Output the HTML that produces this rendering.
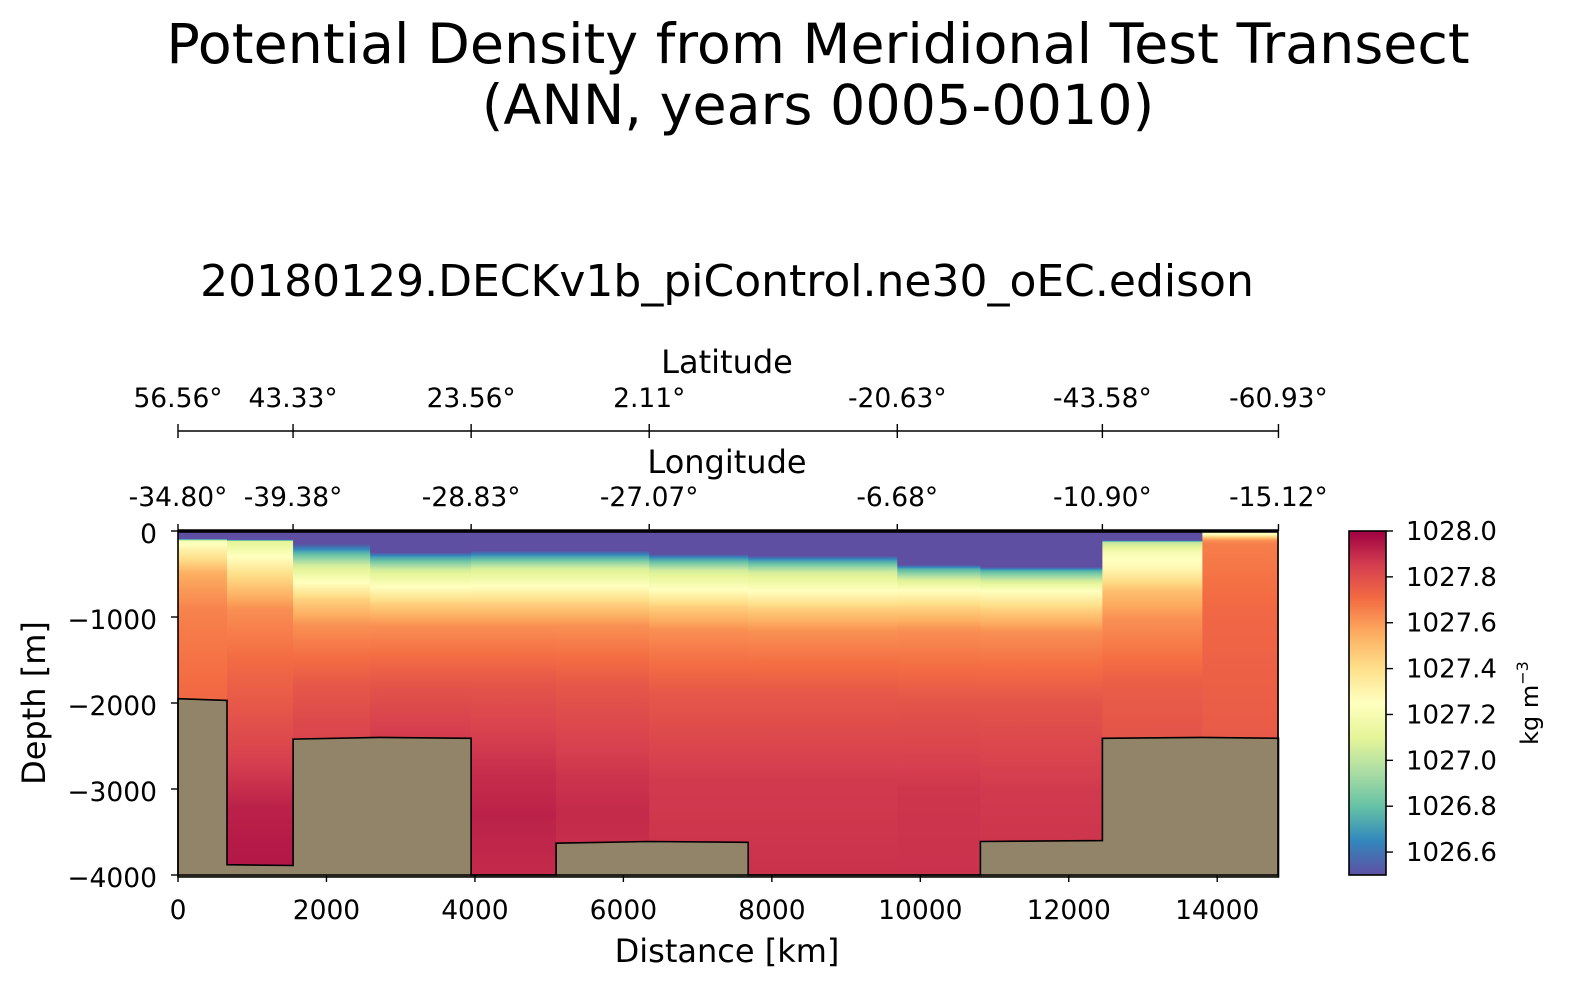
<!DOCTYPE html>
<html><head><meta charset="utf-8"><style>
html,body{margin:0;padding:0;background:#fff;}
svg text{font-family:"DejaVu Sans","Liberation Sans",sans-serif;fill:#000;}
</style></head><body>
<svg id="chart" width="1571" height="989" viewBox="0 0 1571 989" xmlns="http://www.w3.org/2000/svg">
<defs id="defs"></defs>
<text x="818" y="63" font-size="55.5" text-anchor="middle">Potential Density from Meridional Test Transect</text>
<text x="818" y="124" font-size="55.5" text-anchor="middle">(ANN, years 0005-0010)</text>
<text x="727" y="296" font-size="44" text-anchor="middle">20180129.DECKv1b_piControl.ne30_oEC.edison</text>
<g id="plot"></g>
<g id="axes"></g>
<g id="cbar"></g>
</svg>
<script>
// ---- data ----
const colEdges = [0,660,1550,2588,3949,5094,6348,7682,9690,10809,12453,13800,14825];
const profDepths = [
 [0,90,115,200,500,900,2000,4000],
 [0,100,120,300,500,900,1600,2500,3200,4000],
 [0,150,250,400,600,800,1100,1800,2500,4000],
 [0,250,300,450,650,850,1100,1800,2500,4000],
 [0,230,290,430,640,850,1100,1800,2800,3300,4000],
 [0,230,290,430,640,850,1100,1800,2800,3300,4000],
 [0,270,320,460,680,880,1150,1900,2900,4000],
 [0,290,340,480,700,900,1170,1900,2900,4000],
 [0,395,440,560,690,900,1150,2000,3000,4000],
 [0,420,460,580,700,920,1170,2000,3000,4000],
 [0,110,130,250,450,700,1030,1800,2400,4000],
 [0,40,70,110,150,1000,2400,4000]
];
const profValues = [
 [1026.5,1026.5,1027.2,1027.3,1027.55,1027.65,1027.72,1027.72],
 [1026.5,1026.5,1027.1,1027.25,1027.4,1027.62,1027.72,1027.82,1027.92,1027.95],
 [1026.5,1026.5,1026.75,1027.05,1027.25,1027.45,1027.62,1027.77,1027.84,1027.86],
 [1026.5,1026.5,1026.7,1027.05,1027.25,1027.45,1027.62,1027.78,1027.87,1027.93],
 [1026.5,1026.5,1026.7,1027.05,1027.25,1027.45,1027.62,1027.78,1027.89,1027.92,1027.9],
 [1026.5,1026.5,1026.7,1027.05,1027.25,1027.45,1027.62,1027.77,1027.87,1027.9,1027.88],
 [1026.5,1026.5,1026.7,1027.05,1027.25,1027.45,1027.62,1027.77,1027.86,1027.88],
 [1026.5,1026.5,1026.7,1027.05,1027.25,1027.45,1027.62,1027.77,1027.86,1027.88],
 [1026.5,1026.5,1026.75,1027.05,1027.25,1027.45,1027.62,1027.78,1027.87,1027.88],
 [1026.5,1026.5,1026.75,1027.05,1027.25,1027.45,1027.62,1027.78,1027.86,1027.88],
 [1026.5,1026.5,1027.0,1027.2,1027.3,1027.5,1027.62,1027.75,1027.78,1027.8],
 [1027.2,1027.25,1027.45,1027.62,1027.66,1027.72,1027.76,1027.78]
];
const bathDist = [0,660,660,1550,1550,2700,3949,3949,5094,5094,6348,7682,7682,10809,10809,12453,12453,13800,14825];
const bathDepth = [-1950,-1970,-3880,-3890,-2420,-2400,-2410,-4000,-4000,-3630,-3610,-3620,-4000,-4000,-3610,-3600,-2410,-2400,-2410];
const xTicks = [0,2000,4000,6000,8000,10000,12000,14000];
const yTicks = [0,-1000,-2000,-3000,-4000];
const topTickDist = [0,1550,3949,6348,9690,12453,14825];
const latLabels = ["56.56°","43.33°","23.56°","2.11°","-20.63°","-43.58°","-60.93°"];
const lonLabels = ["-34.80°","-39.38°","-28.83°","-27.07°","-6.68°","-10.90°","-15.12°"];
const cbTicks = [1026.6,1026.8,1027.0,1027.2,1027.4,1027.6,1027.8,1028.0];
const vmin = 1026.5, vmax = 1028.0;

// ---- helpers ----
const NS = "http://www.w3.org/2000/svg";
const X0 = 178, X1 = 1278, Y0 = 531, Y1 = 875;
const xs = d => X0 + d * 0.07423;
const ys = z => Y0 + (-z) * (Y1 - Y0) / 4000;
const spectral = [[158,1,66],[213,62,79],[244,109,67],[253,174,97],[254,224,139],[255,255,191],[230,245,152],[171,221,164],[102,194,165],[50,136,189],[94,79,162]];
function cmap(v){
  let t = (v - vmin) / (vmax - vmin); t = Math.max(0, Math.min(1, t));
  const s = (1 - t) * 10; const i = Math.min(9, Math.floor(s)); const f = s - i;
  const a = spectral[i], b = spectral[i+1];
  return "rgb(" + a.map((c,k)=>Math.round(c + (b[k]-c)*f)).join(",") + ")";
}
function mk(tag, attrs, parent){ const e = document.createElementNS(NS, tag); for (const k in attrs) e.setAttribute(k, attrs[k]); parent.appendChild(e); return e; }
const defs = document.getElementById("defs"), plot = document.getElementById("plot"), axes = document.getElementById("axes"), cbar = document.getElementById("cbar");

// ---- columns ----
for (let c = 0; c < colEdges.length - 1; c++) {
  const g = mk("linearGradient", {id: "grad" + c, gradientUnits: "userSpaceOnUse", x1: 0, x2: 0, y1: ys(0), y2: ys(-4000)}, defs);
  const D = profDepths[c], V = profValues[c];
  for (let i = 0; i < D.length - 1; i++) {
    for (let k = 0; k < 8; k++) {
      const f = k / 8, d = D[i] + (D[i+1]-D[i]) * f, v = V[i] + (V[i+1]-V[i]) * f;
      mk("stop", {offset: d / 4000, "stop-color": cmap(v)}, g);
    }
  }
  mk("stop", {offset: 1, "stop-color": cmap(V[V.length-1])}, g);
  const r = mk("rect", {x: xs(colEdges[c]), y: Y0, width: xs(colEdges[c+1]) - xs(colEdges[c]) + 0.5, height: Y1 - Y0, fill: "url(#grad" + c + ")"}, plot);
  
  
}
// ---- bathymetry ----
let pts = bathDist.map((d,i) => xs(d).toFixed(1) + "," + ys(bathDepth[i]).toFixed(1));
pts.push(xs(bathDist[bathDist.length-1]).toFixed(1) + "," + (Y1+2), xs(0).toFixed(1) + "," + (Y1+2));
const bath = mk("polygon", {points: pts.join(" "), fill: "#918468", stroke: "#000", "stroke-width": 1.6}, plot);



// ---- frame ----
const spineL = mk("line", {x1: X0, y1: Y0, x2: X0, y2: Y1, stroke: "#000", "stroke-width": 1.6}, axes);
 
const spineB = mk("line", {x1: X0, y1: Y1, x2: X1, y2: Y1, stroke: "#000", "stroke-width": 1.6}, axes);
 
const spineR = mk("line", {x1: X1, y1: Y0, x2: X1, y2: Y1, stroke: "#000", "stroke-width": 1.6}, axes);
 
const spineT = mk("line", {x1: X0, y1: Y0, x2: X1, y2: Y0, stroke: "#000", "stroke-width": 3.5}, axes);
 

xTicks.forEach(v => {
  mk("line", {x1: xs(v), y1: Y1, x2: xs(v), y2: Y1 + 7, stroke: "#000", "stroke-width": 1.4}, axes);
  const t = mk("text", {x: xs(v), y: 919, "font-size": 26.5, "text-anchor": "middle"}, axes);
  t.textContent = v;
   
});
yTicks.forEach(v => {
  mk("line", {x1: X0 - 7, y1: ys(v), x2: X0, y2: ys(v), stroke: "#000", "stroke-width": 1.4}, axes);
  const t = mk("text", {x: X0 - 21, y: ys(v) + 12, "font-size": 26.5, "text-anchor": "end"}, axes);
  t.textContent = v === 0 ? "0" : "\u2212" + Math.abs(v);
   
});
// top axes
const latY = 431;
mk("line", {x1: X0, y1: latY, x2: X1, y2: latY, stroke: "#000", "stroke-width": 1.4}, axes);
topTickDist.forEach((d,i) => {
  mk("line", {x1: xs(d), y1: latY, x2: xs(d), y2: latY - 7, stroke: "#000", "stroke-width": 1.4}, axes);
  mk("line", {x1: xs(d), y1: latY, x2: xs(d), y2: latY + 7, stroke: "#000", "stroke-width": 1.4}, axes);
  const t = mk("text", {x: xs(d), y: 407, "font-size": 26.5, "text-anchor": "middle"}, axes);
  t.textContent = latLabels[i];
   
  mk("line", {x1: xs(d), y1: Y0, x2: xs(d), y2: Y0 - 7, stroke: "#000", "stroke-width": 1.4}, axes);
  const t2 = mk("text", {x: xs(d), y: 506, "font-size": 26.5, "text-anchor": "middle"}, axes);
  t2.textContent = lonLabels[i];
   
});
// ---- colorbar ----
const CX0 = 1349, CX1 = 1386;
const cbg = mk("linearGradient", {id: "cbgrad", x1: 0, x2: 0, y1: 1, y2: 0}, defs);
for (let k = 0; k <= 30; k++) mk("stop", {offset: k/30, "stop-color": cmap(vmin + (vmax-vmin)*k/30)}, cbg);
const cbr = mk("rect", {x: CX0, y: Y0, width: CX1-CX0, height: Y1-Y0, fill: "url(#cbgrad)", stroke: "#000", "stroke-width": 1.6}, cbar);
 
const cy = v => Y1 - (v - vmin) / (vmax - vmin) * (Y1 - Y0);
cbTicks.forEach(v => {
  mk("line", {x1: CX1, y1: cy(v), x2: CX1 + 7, y2: cy(v), stroke: "#000", "stroke-width": 1.4}, cbar);
  const t = mk("text", {x: CX1 + 20, y: cy(v) + 9, "font-size": 26}, cbar);
  t.textContent = v.toFixed(1);
   
});
</script>
<script>
const s = document.getElementById("chart");
s.insertAdjacentHTML("beforeend",
 '<text x="727" y="373" font-size="32" text-anchor="middle">Latitude</text>' +
 '<text x="727" y="473" font-size="32" text-anchor="middle">Longitude</text>' +
 '<text x="727" y="962" font-size="32" text-anchor="middle">Distance [km]</text>' +
 '<text transform="translate(45,703) rotate(-90)" font-size="32" text-anchor="middle">Depth [m]</text>' +
 '<text transform="translate(1538,703) rotate(-90)" font-size="24" text-anchor="middle">kg m<tspan font-size="16" dy="-10">\u22123</tspan></text>');
</script>
</body></html>
